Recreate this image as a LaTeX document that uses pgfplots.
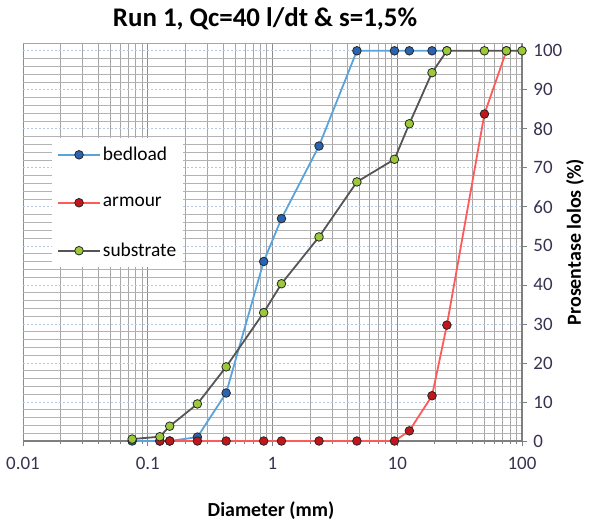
\documentclass[border=0pt]{standalone}
\usepackage{fontspec}
\setmainfont{Carlito}
\usepackage{pgfplots}
\pgfplotsset{compat=1.18}

\definecolor{bedline}{HTML}{5BA3DB}
\definecolor{bedfill}{HTML}{2A64B0}
\definecolor{armline}{HTML}{FF5A5A}
\definecolor{armfill}{HTML}{C0161C}
\definecolor{subline}{HTML}{555555}
\definecolor{subfill}{HTML}{9CC93A}
\definecolor{axisgray}{HTML}{7F7F7F}
\definecolor{gridgray}{HTML}{A6A6A6}
\definecolor{griddark}{HTML}{8C8C8C}
\definecolor{gridblue}{HTML}{B4C8E6}
\definecolor{ticktext}{HTML}{3A3050}

\begin{document}
\begin{tikzpicture}
\begin{axis}[
    name=ax,
    scale only axis,
    width=499bp, height=398bp,
    xmode=log,
    xmin=0.01, xmax=100,
    ymin=0, ymax=102,
    clip=false,
    axis x line*=bottom,
    axis y line*=right,
    axis line style={draw=axisgray, line width=1.2bp},
    xtick={0.01,0.1,1,10,100},
    xticklabels={0.01,0.1,1,10,100},
    ytick={0,10,...,100},
    minor y tick num=4,
    tick align=outside,
    major tick length=5bp,
    minor tick length=3bp,
    tick style={draw=axisgray, line width=0.8bp},
    minor y tick style={draw=none},
    /pgf/number format/assume math mode=true,
    ticklabel style={font=\fontsize{19}{22}\selectfont, text=ticktext},
    xticklabel style={yshift=-8bp},
    yticklabel style={xshift=3bp},
    xmajorgrids, xminorgrids, ymajorgrids, yminorgrids,
    major x grid style={draw=griddark, line width=0.8bp},
    minor x grid style={draw=gridgray, line width=0.6bp},
    major y grid style={draw=gridblue, line width=0.8bp, dash pattern=on 2bp off 2bp},
    minor y grid style={draw=gridgray!85, line width=0.7bp},
    title={Run 1, Qc=40 l/dt \& s=1,5\%},
    every axis title/.style={at={(axis description cs:0.485,1.06)}, anchor=center,
        font=\fontsize{27}{32}\selectfont\bfseries},
    xlabel={Diameter (mm)},
    every axis x label/.style={at={(axis description cs:0.497,-0.176)}, anchor=center,
        font=\fontsize{20}{24}\selectfont\bfseries},
    ylabel={Prosentase lolos (\%)},
    every axis y label/.style={at={(axis description cs:1.106,0.5)}, anchor=center, rotate=90,
        font=\fontsize{20}{24}\selectfont\bfseries},
    legend style={at={(axis description cs:0.058,0.761)}, anchor=north west,
        draw=none, fill=white, font=\fontsize{19.5}{23}\selectfont,
        row sep=31bp, inner xsep=5bp, inner ysep=7bp},
    legend cell align={left},
    legend image code/.code={\draw[mark repeat=2,mark phase=2] plot coordinates {(0bp,0bp) (21bp,0bp) (42bp,0bp)};},
    every axis plot/.append style={line width=1.8bp, mark=*, mark size=4.3bp},
]
% bedload
\addplot[bedline, mark options={fill=bedfill, draw=black!85, line width=0.8bp}] coordinates {
    (0.075,0) (0.125,0) (0.15,0) (0.25,1) (0.425,12.3) (0.85,46) (1.18,57)
    (2.36,75.6) (4.75,100) (9.5,100) (12.5,100) (19,100) (25,100)};
% armour
\addplot[armline, mark options={fill=armfill, draw=black!85, line width=0.8bp}] coordinates {
    (0.125,0) (0.15,0) (0.25,0) (0.425,0) (0.85,0) (1.18,0) (2.36,0) (4.75,0)
    (9.5,0) (12.5,2.6) (19,11.6) (25,29.7) (50,83.8) (75,100)};
% substrate
\addplot[subline, mark options={fill=subfill, draw=black!85, line width=0.8bp}] coordinates {
    (0.075,0.5) (0.125,1.1) (0.15,3.8) (0.25,9.5) (0.425,19) (0.85,32.9) (1.18,40.3)
    (2.36,52.3) (4.75,66.4) (9.5,72.2) (12.5,81.3) (19,94.4) (25,100) (50,100) (75,100) (100,100)};
\legend{bedload, armour, substrate}
\draw[gridgray, line width=0.8bp] (rel axis cs:0,1) -- (rel axis cs:1,1);
\end{axis}
\pgfresetboundingbox
\path[use as bounding box] ([shift={(-23bp,-80bp)}]ax.south west) rectangle ([shift={(74bp,43bp)}]ax.north east);
\end{tikzpicture}
\end{document}
